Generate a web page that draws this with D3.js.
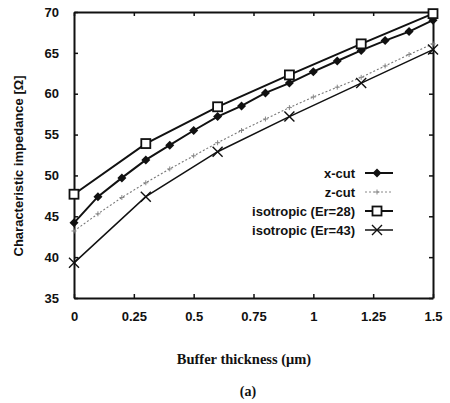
<!DOCTYPE html>
<html>
<head>
<meta charset="utf-8">
<script src="https://cdn.jsdelivr.net/npm/d3@7"></script>
<style>
  body { margin: 0; background: #fff; }
  svg { display: block; }
</style>
</head>
<body>
<div id="main"></div>
<script>
const ctx = {
    margin: {top: 12, right: 17, bottom: 105, left: 74},
    width: 450,
    height: 403
};
ctx.w = ctx.width - ctx.margin.left - ctx.margin.right;
ctx.h = ctx.height - ctx.margin.top - ctx.margin.bottom;

// data
const xTicks = [0, 0.25, 0.5, 0.75, 1, 1.25, 1.5];
const xTickLabels = ["0", "0.25", "0.5", "0.75", "1", "1.25", "1.5"];
const yTicks = [35, 40, 45, 50, 55, 60, 65, 70];

const xFine = [0, 0.1, 0.2, 0.3, 0.4, 0.5, 0.6, 0.7, 0.8, 0.9, 1.0, 1.1, 1.2, 1.3, 1.4, 1.5];
const xCoarse = [0, 0.3, 0.6, 0.9, 1.2, 1.5];

const xCut = [44.2, 47.4, 49.7, 51.9, 53.7, 55.5, 57.2, 58.5, 60.1, 61.3, 62.7, 64.0, 65.3, 66.5, 67.6, 69.0];
const zCut = [43.2, 45.3, 47.3, 49.1, 50.8, 52.4, 54.0, 55.5, 56.9, 58.3, 59.6, 60.8, 62.0, 63.4, 64.8, 66.1];
const iso28 = [47.7, 53.9, 58.4, 62.3, 66.1, 69.8];
const iso43 = [39.3, 47.4, 52.9, 57.2, 61.3, 65.4];

const seriesNames = ["x-cut", "z-cut", "isotropic (Er=28)", "isotropic (Er=43)"];

const svg = d3.select("#main").append("svg")
    .attr("width", ctx.width)
    .attr("height", ctx.height);

const g = svg.append("g")
    .attr("transform", `translate(${ctx.margin.left},${ctx.margin.top})`);

const x = d3.scaleLinear().domain([0, 1.5]).range([0, ctx.w]);
const y = d3.scaleLinear().domain([35, 70]).range([ctx.h, 0]);

// frame with inward ticks on all sides
const tickFont = "bold 13px Arial, 'Liberation Sans', sans-serif";

g.append("g")
    .attr("transform", `translate(0,${ctx.h})`)
    .call(d3.axisBottom(x).tickValues(xTicks).tickSizeInner(-4).tickSizeOuter(0)
        .tickPadding(14).tickFormat((d, i) => xTickLabels[i]))
    .call(a => a.selectAll("text").style("font", tickFont).attr("fill", "#111"));

g.append("g")
    .call(d3.axisLeft(y).tickValues(yTicks).tickSizeInner(-4).tickSizeOuter(0)
        .tickPadding(15))
    .call(a => a.selectAll("text").style("font", tickFont).attr("fill", "#111"));

g.append("g")
    .call(d3.axisTop(x).tickValues(xTicks).tickSizeInner(-4).tickSizeOuter(0).tickFormat(""));

g.append("g")
    .attr("transform", `translate(${ctx.w},0)`)
    .call(d3.axisRight(y).tickValues(yTicks).tickSizeInner(-4).tickSizeOuter(0).tickFormat(""));

g.selectAll(".domain").attr("stroke", "#111").attr("stroke-width", 2);
g.selectAll(".tick line").attr("stroke", "#111").attr("stroke-width", 1.5);

const line = d3.line().x(d => x(d[0])).y(d => y(d[1]));

// z-cut : light dotted grey
const zPts = xFine.map((v, i) => [v, zCut[i]]);
g.append("path").datum(zPts)
    .attr("d", line).attr("fill", "none")
    .attr("stroke", "#777").attr("stroke-width", 1.1)
    .attr("stroke-dasharray", "2,2");
g.selectAll(".zm").data(zPts).enter().append("path")
    .attr("class", "zm")
    .attr("transform", d => `translate(${x(d[0])},${y(d[1])})`)
    .attr("d", "M-2.5,0H2.5M0,-2.5V2.5")
    .attr("stroke", "#888").attr("stroke-width", 1);

// isotropic Er=43 : X markers
const p43 = xCoarse.map((v, i) => [v, iso43[i]]);
g.append("path").datum(p43)
    .attr("d", line).attr("fill", "none")
    .attr("stroke", "#111").attr("stroke-width", 1.5);
g.selectAll(".xm").data(p43).enter().append("path")
    .attr("class", "xm")
    .attr("transform", d => `translate(${x(d[0])},${y(d[1])})`)
    .attr("d", "M-5,-5L5,5M-5,5L5,-5")
    .attr("stroke", "#111").attr("stroke-width", 1.4);

// x-cut : filled diamonds
const pX = xFine.map((v, i) => [v, xCut[i]]);
g.append("path").datum(pX)
    .attr("d", line).attr("fill", "none")
    .attr("stroke", "#111").attr("stroke-width", 2);
g.selectAll(".dm").data(pX).enter().append("path")
    .attr("class", "dm")
    .attr("transform", d => `translate(${x(d[0])},${y(d[1])})`)
    .attr("d", "M0,-4.5L4.5,0L0,4.5L-4.5,0Z")
    .attr("fill", "#111");

// isotropic Er=28 : open squares
const p28 = xCoarse.map((v, i) => [v, iso28[i]]);
g.append("path").datum(p28)
    .attr("d", line).attr("fill", "none")
    .attr("stroke", "#111").attr("stroke-width", 2);
g.selectAll(".sm").data(p28).enter().append("rect")
    .attr("class", "sm")
    .attr("x", d => x(d[0]) - 4.5).attr("y", d => y(d[1]) - 4.5)
    .attr("width", 9).attr("height", 9)
    .attr("fill", "#fff").attr("stroke", "#111").attr("stroke-width", 1.8);

// legend
const leg = g.append("g").attr("transform", `translate(${281},${161})`);
const legY = d3.scalePoint().domain(seriesNames).range([0, 57]);
leg.selectAll("text").data(seriesNames).enter().append("text")
    .attr("x", 0).attr("y", d => legY(d)).attr("dy", "0.35em")
    .attr("text-anchor", "end")
    .style("font", "bold 13px Arial, 'Liberation Sans', sans-serif")
    .attr("fill", "#111")
    .text(d => d);

const sx0 = 10, sx1 = 38, sxm = 22;
leg.append("line").attr("x1", sx0).attr("x2", sx1)
    .attr("y1", legY(seriesNames[0])).attr("y2", legY(seriesNames[0]))
    .attr("stroke", "#111").attr("stroke-width", 2);
leg.append("path").attr("transform", `translate(${sxm},${legY(seriesNames[0])})`)
    .attr("d", "M0,-4.5L4.5,0L0,4.5L-4.5,0Z").attr("fill", "#111");

leg.append("line").attr("x1", sx0).attr("x2", sx1)
    .attr("y1", legY(seriesNames[1])).attr("y2", legY(seriesNames[1]))
    .attr("stroke", "#888").attr("stroke-width", 1).attr("stroke-dasharray", "2,2");
leg.append("path").attr("transform", `translate(${sxm},${legY(seriesNames[1])})`)
    .attr("d", "M-2.5,0H2.5M0,-2.5V2.5").attr("stroke", "#888");

leg.append("line").attr("x1", sx0).attr("x2", sx1)
    .attr("y1", legY(seriesNames[2])).attr("y2", legY(seriesNames[2]))
    .attr("stroke", "#111").attr("stroke-width", 2);
leg.append("rect").attr("x", sxm - 4.5).attr("y", legY(seriesNames[2]) - 4.5)
    .attr("width", 9).attr("height", 9)
    .attr("fill", "#fff").attr("stroke", "#111").attr("stroke-width", 1.8);

leg.append("line").attr("x1", sx0).attr("x2", sx1)
    .attr("y1", legY(seriesNames[3])).attr("y2", legY(seriesNames[3]))
    .attr("stroke", "#111").attr("stroke-width", 1.5);
leg.append("path").attr("transform", `translate(${sxm},${legY(seriesNames[3])})`)
    .attr("d", "M-5,-5L5,5M-5,5L5,-5").attr("stroke", "#111").attr("stroke-width", 1.4);

// axis titles
svg.append("text")
    .attr("transform", `translate(18,${166}) rotate(-90)`)
    .attr("text-anchor", "middle").attr("dy", "0.35em")
    .style("font", "bold 13px Arial, 'Liberation Sans', sans-serif")
    .attr("fill", "#111")
    .text("Characteristic impedance [Ω]");

svg.append("text")
    .attr("x", 244).attr("y", 364)
    .attr("text-anchor", "middle")
    .style("font", "bold 14.5px 'Times New Roman', 'Liberation Serif', serif")
    .attr("fill", "#111")
    .text("Buffer thickness (μm)");

svg.append("text")
    .attr("x", 248).attr("y", 396)
    .attr("text-anchor", "middle")
    .style("font", "bold 14px 'Times New Roman', 'Liberation Serif', serif")
    .attr("fill", "#111")
    .text("(a)");
</script>
</body>
</html>
